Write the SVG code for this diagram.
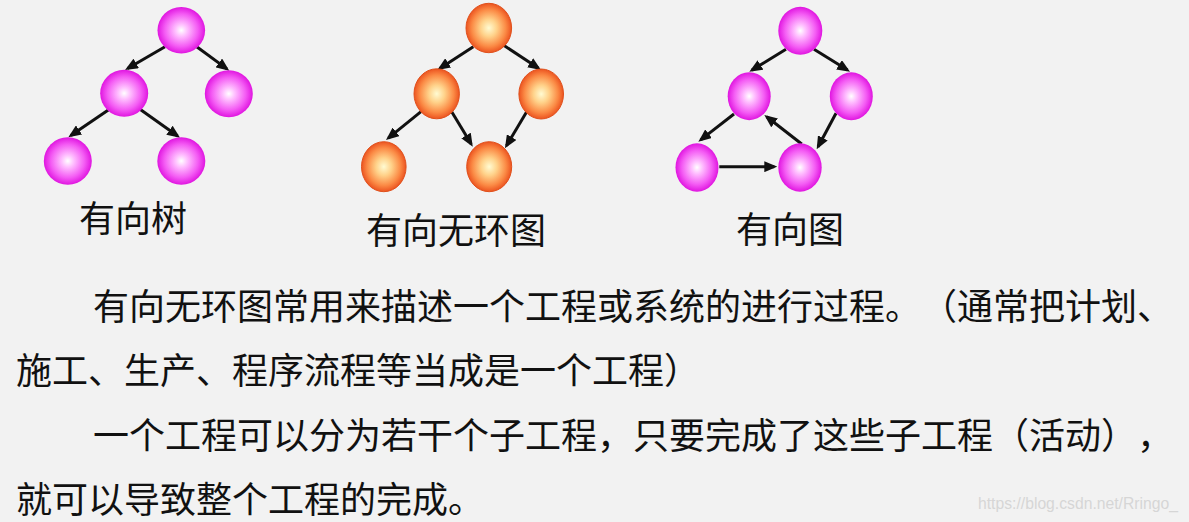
<svg xmlns="http://www.w3.org/2000/svg" width="1189" height="522" viewBox="0 0 1189 522">
<defs>
<radialGradient id="gPink" cx="50%" cy="50%" r="50%">
<stop offset="0" stop-color="#ffffff"/>
<stop offset="0.25" stop-color="#ffc0ff"/>
<stop offset="0.7" stop-color="#f45cf4"/>
<stop offset="1" stop-color="#e015e0"/>
</radialGradient>
<radialGradient id="gOrange" cx="50%" cy="50%" r="50%">
<stop offset="0" stop-color="#fffbd2"/>
<stop offset="0.35" stop-color="#ffd28a"/>
<stop offset="0.75" stop-color="#fb8a45"/>
<stop offset="1" stop-color="#ec5420"/>
</radialGradient>
<marker id="ah" markerUnits="userSpaceOnUse" markerWidth="13" markerHeight="11" viewBox="0 0 13 11" refX="10" refY="5.5" orient="auto">
<path d="M0,0 L13,5.5 L0,11 z" fill="#111"/>
</marker>
</defs>
<style>
.pk{fill:url(#gPink);}
.or{fill:url(#gOrange);stroke:#e0501c;stroke-width:1;}
.ed{stroke:#111;stroke-width:3;fill:none;marker-end:url(#ah);}
.lb{font-family:"Noto Sans CJK SC","Noto Sans",sans-serif;font-size:36px;fill:#111;}
.tx{font-family:"Noto Sans CJK SC","Noto Sans",sans-serif;font-size:36px;fill:#111;text-spacing-trim:space-all;font-kerning:none;}
.wm{font-family:"Liberation Sans",Arial,sans-serif;font-size:16px;fill:#d6d6d6;}
</style>
<rect width="1189" height="522" fill="#f2f2f2"/>

<g id="connectors">
<line class="ed" x1="165" y1="46.7" x2="127.6" y2="68.5"/>
<line class="ed" x1="196.7" y1="46.7" x2="226.9" y2="68.9"/>
<line class="ed" x1="108.3" y1="110" x2="70.8" y2="135.6"/>
<line class="ed" x1="140" y1="109.3" x2="177.6" y2="136"/>

<line class="ed" x1="473.3" y1="46.7" x2="439.8" y2="68.4"/>
<line class="ed" x1="503.3" y1="45" x2="538.5" y2="68.3"/>
<line class="ed" x1="421" y1="111.7" x2="388.3" y2="138.1"/>
<line class="ed" x1="451.7" y1="111.7" x2="471.2" y2="144.1"/>
<line class="ed" x1="526.7" y1="111.7" x2="506.5" y2="145.7"/>

<line class="ed" x1="786" y1="49.3" x2="751.9" y2="70.1"/>
<line class="ed" x1="814" y1="49.3" x2="847.5" y2="70.1"/>
<line class="ed" x1="734" y1="114" x2="700.7" y2="139.9"/>
<line class="ed" x1="836" y1="113.3" x2="818.1" y2="146.7"/>
<line class="ed" x1="801.7" y1="144" x2="766.7" y2="116.8"/>
<line class="ed" x1="719.3" y1="166.7" x2="774.3" y2="166.7"/>
</g>

<g id="tree-root"><ellipse class="pk" cx="181.3" cy="30.3" rx="23.8" ry="23.3"/></g>
<g id="tree-lm"><ellipse class="pk" cx="124.2" cy="93.3" rx="24" ry="23.5"/></g>
<g id="tree-rm"><ellipse class="pk" cx="228.8" cy="93.7" rx="24" ry="23.5"/></g>
<g id="tree-bl"><ellipse class="pk" cx="67.8" cy="161" rx="24" ry="23.8"/></g>
<g id="tree-br"><ellipse class="pk" cx="181.3" cy="161" rx="24" ry="23.8"/></g>

<g id="dag-root"><ellipse class="or" cx="488.8" cy="28" rx="22.8" ry="24.7"/></g>
<g id="dag-lm"><ellipse class="or" cx="436.7" cy="93.8" rx="22.7" ry="25"/></g>
<g id="dag-rm"><ellipse class="or" cx="541.2" cy="94" rx="22.3" ry="25"/></g>
<g id="dag-bl"><ellipse class="or" cx="383.8" cy="166.7" rx="22.3" ry="25"/></g>
<g id="dag-br"><ellipse class="or" cx="489.2" cy="166.7" rx="22.5" ry="25"/></g>

<g id="dg-root"><ellipse class="pk" cx="800.3" cy="30.8" rx="22" ry="24"/></g>
<g id="dg-lm"><ellipse class="pk" cx="749.2" cy="96.2" rx="21.5" ry="24"/></g>
<g id="dg-rm"><ellipse class="pk" cx="851.3" cy="96.3" rx="21.5" ry="24"/></g>
<g id="dg-bl"><ellipse class="pk" cx="697" cy="167.5" rx="21.5" ry="24.2"/></g>
<g id="dg-br"><ellipse class="pk" cx="800" cy="167.5" rx="21.7" ry="24.2"/></g>

<g id="labels">
<text class="lb" x="79" y="232">有向树</text>
<text class="lb" x="366" y="244">有向无环图</text>
<text class="lb" x="736" y="243">有向图</text>
</g>

<g id="body">
<text class="tx" x="93" y="320">有向无环图常用来描述一个工程或系统的进行过程。（通常把计划、</text>
<text class="tx" x="16" y="384">施工、生产、程序流程等当成是一个工程）</text>
<text class="tx" x="93" y="449">一个工程可以分为若干个子工程，只要完成了这些子工程（活动），</text>
<text class="tx" x="16" y="513">就可以导致整个工程的完成。</text>
<text class="wm" x="978" y="509" textLength="200" lengthAdjust="spacingAndGlyphs">https://blog.csdn.net/Rringo_</text>
</g>
</svg>
